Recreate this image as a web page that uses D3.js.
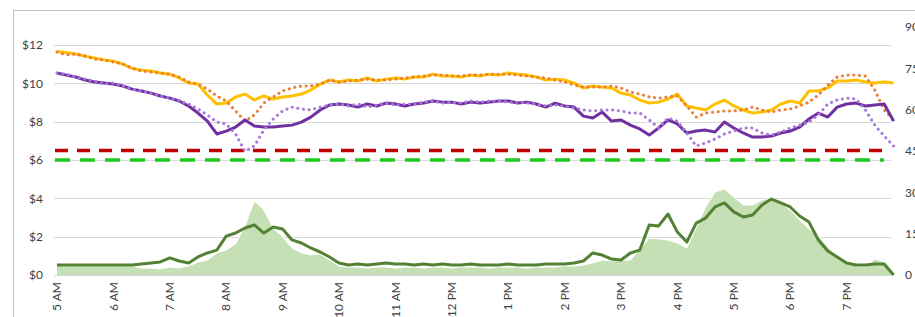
<!DOCTYPE html>
<html>
<head>
<meta charset="utf-8">
<script src="https://cdn.jsdelivr.net/npm/d3@7"></script>
<style>
  body { margin: 0; background: #fff; }
  text { font-family: Lato, "Open Sans", sans-serif; font-size: 12px; fill: #404040; }
</style>
</head>
<body>
<svg width="915" height="317"></svg>
<script>
// hour labels on the category axis
var hourLabels = ["5 AM", "6 AM", "7 AM", "8 AM", "9 AM", "10 AM", "11 AM", "12 PM",
                  "1 PM", "2 PM", "3 PM", "4 PM", "5 PM", "6 PM", "7 PM"];

// one reading every 10 minutes from 5:00 AM to 7:50 PM (minutes after 5 AM)
var minutes = d3.range(0, 900, 10);

// left axis ($) series
var goldLine = [11.66,11.61,11.53,11.42,11.32,11.22,11.16,11.01,10.77,10.69,
  10.64,10.54,10.48,10.28,10.02,9.96,9.39,8.92,8.97,9.29,
  9.44,9.13,9.34,9.18,9.29,9.34,9.44,9.65,9.96,10.17,
  10.07,10.17,10.12,10.28,10.12,10.22,10.28,10.22,10.33,10.33,
  10.48,10.38,10.38,10.33,10.43,10.38,10.48,10.43,10.54,10.48,
  10.43,10.33,10.17,10.22,10.17,10.02,9.76,9.86,9.81,9.76,
  9.49,9.39,9.13,8.97,9.02,9.18,9.44,8.82,8.71,8.61,
  8.92,9.13,8.82,8.61,8.45,8.50,8.61,8.92,9.08,8.97,
  9.60,9.60,9.76,10.12,10.12,10.17,10.07,10.02,10.07,10.02];

var orangeDots = [11.63,11.48,11.53,11.42,11.27,11.22,11.11,11.01,10.80,10.64,
  10.59,10.54,10.48,10.33,10.07,9.96,9.70,9.34,9.08,8.56,
  8.03,8.35,8.97,9.29,9.60,9.76,9.86,9.86,9.96,10.17,
  10.07,10.12,10.17,10.22,10.17,10.17,10.22,10.28,10.33,10.38,
  10.43,10.43,10.38,10.38,10.43,10.43,10.48,10.48,10.48,10.43,
  10.38,10.33,10.28,10.17,10.07,9.91,9.81,9.81,9.81,9.86,
  9.76,9.55,9.44,9.29,9.23,9.29,9.34,8.82,8.24,8.45,
  8.50,8.56,8.56,8.61,8.76,8.61,8.50,8.61,8.66,8.82,
  9.02,9.39,9.91,10.33,10.43,10.43,10.38,9.65,8.61,8.09];

var purpleLine = [10.54,10.43,10.33,10.17,10.07,10.02,9.96,9.86,9.70,9.60,
  9.49,9.34,9.23,9.08,8.82,8.45,8.03,7.36,7.51,7.72,
  8.09,7.77,7.72,7.72,7.77,7.82,7.98,8.24,8.61,8.87,
  8.92,8.87,8.76,8.92,8.82,8.97,8.92,8.82,8.92,8.97,
  9.08,9.02,9.02,8.92,9.02,8.97,9.02,9.08,9.08,8.97,
  9.02,8.92,8.76,8.97,8.82,8.76,8.29,8.19,8.50,8.03,
  8.09,7.82,7.62,7.30,7.67,8.09,7.88,7.41,7.51,7.56,
  7.46,7.98,7.67,7.41,7.20,7.20,7.25,7.41,7.51,7.72,
  8.14,8.45,8.24,8.76,8.92,8.97,8.82,8.87,8.92,8.03];

var purpleDots = [10.54,10.48,10.33,10.22,10.12,9.96,10.02,9.86,9.70,9.60,
  9.49,9.34,9.23,9.08,8.92,8.66,8.35,7.98,7.88,7.36,
  6.45,6.73,7.56,8.14,8.56,8.76,8.66,8.61,8.76,8.87,
  8.92,8.82,8.92,8.76,8.87,8.97,8.87,8.92,8.92,9.02,
  9.08,8.97,9.02,8.97,9.08,9.02,9.08,9.08,9.02,9.02,
  8.97,8.92,8.82,8.87,8.82,8.71,8.61,8.56,8.61,8.61,
  8.56,8.45,8.45,8.09,7.67,8.19,8.03,7.41,6.73,6.89,
  7.09,7.36,7.51,7.67,7.67,7.41,7.30,7.46,7.67,7.82,
  7.98,8.35,8.92,9.13,9.23,9.18,8.61,7.82,7.25,6.73];

var greenLine = [0.52,0.52,0.52,0.52,0.52,0.52,0.52,0.52,0.52,0.57,
  0.63,0.68,0.89,0.73,0.63,0.94,1.15,1.30,2.03,2.19,
  2.45,2.61,2.19,2.50,2.40,1.83,1.67,1.41,1.20,0.94,
  0.63,0.52,0.57,0.52,0.57,0.63,0.57,0.57,0.52,0.57,
  0.52,0.57,0.52,0.52,0.57,0.52,0.52,0.52,0.57,0.52,
  0.52,0.52,0.57,0.57,0.57,0.63,0.73,1.15,1.04,0.83,
  0.78,1.15,1.30,2.61,2.56,3.18,2.24,1.72,2.71,2.97,
  3.55,3.76,3.29,3.03,3.13,3.65,3.96,3.76,3.55,3.08,
  2.76,1.83,1.25,0.94,0.63,0.52,0.52,0.57,0.57,0.0];

// flat reference levels ($)
var redLevel = 6.5;
var greenLevel = 6.0;

// right axis series (area)
var volume = [3.3,3.3,3.3,3.3,3.3,3.3,3.3,3.3,3.3,2.5,
  2.5,2.2,2.9,2.5,3.3,4.7,5.4,8.0,9.1,11.3,
  17.8,26.9,23.6,17.1,13.8,9.8,8.0,7.3,7.6,5.4,
  3.3,2.9,2.9,2.5,2.9,2.9,2.5,2.9,2.9,2.5,
  2.9,2.9,2.5,2.9,2.9,2.9,2.5,2.9,2.9,2.9,
  2.5,2.9,2.9,2.9,3.3,3.3,3.6,4.4,5.4,5.1,
  5.4,5.4,9.1,13.4,13.1,12.7,11.6,9.8,17.1,24.7,
  30.1,31.2,28.3,25.4,25.4,27.2,27.9,26.1,23.6,20.0,
  16.7,14.2,10.2,6.9,4.4,3.3,2.9,5.8,4.7,0];

var leftTicks = [0, 2, 4, 6, 8, 10, 12];
var rightTicks = [0, 15, 30, 45, 60, 75, 90];

var svg = d3.select("svg");

// outer chart border
svg.append("rect")
    .attr("x", 13.5).attr("y", 10.5)
    .attr("width", 930).attr("height", 330)
    .attr("fill", "none")
    .attr("stroke", "#bfbfbf");

var x = d3.scaleLinear().domain([0, 890]).range([57, 893.6]);
var yL = d3.scaleLinear().domain([0, 12.94]).range([275, 27]);
var yR = d3.scaleLinear().domain([0, 90]).range([275, 27]);

// gridlines + left labels
svg.append("g").selectAll("line")
    .data(leftTicks)
    .enter().append("line")
    .attr("x1", 54).attr("x2", 891)
    .attr("y1", function(d) { return Math.round(yL(d)) + 0.5; })
    .attr("y2", function(d) { return Math.round(yL(d)) + 0.5; })
    .attr("stroke", "#d9d9d9");

svg.append("g").selectAll("text")
    .data(leftTicks)
    .enter().append("text")
    .attr("x", 43)
    .attr("y", function(d) { return yL(d); })
    .attr("dy", "0.35em")
    .attr("text-anchor", "end")
    .text(function(d) { return "$" + d; });

svg.append("g").selectAll("text")
    .data(rightTicks)
    .enter().append("text")
    .attr("x", 905)
    .attr("y", function(d) { return yR(d); })
    .attr("dy", "0.35em")
    .text(function(d) { return d; });

// hour labels, rotated
svg.append("g").selectAll("text")
    .data(hourLabels)
    .enter().append("text")
    .attr("transform", function(d, i) { return "translate(" + x(i * 60) + ",282) rotate(-90)"; })
    .attr("dy", "0.35em")
    .attr("text-anchor", "end")
    .text(function(d) { return d; });

// area on right axis
var area = d3.area()
    .x(function(d, i) { return x(minutes[i]); })
    .y0(yR(0))
    .y1(function(d) { return yR(d); });

svg.append("path")
    .datum(volume)
    .attr("d", area)
    .attr("fill", "#c5e0b4");

svg.append("path")
    .datum(volume)
    .attr("d", d3.line().x(function(d, i) { return x(minutes[i]); }).y(function(d) { return yR(d); }))
    .attr("fill", "none")
    .attr("stroke", "#fff")
    .attr("stroke-width", 1);

// dashed levels
svg.append("line")
    .attr("x1", 55).attr("x2", 889)
    .attr("y1", yL(redLevel)).attr("y2", yL(redLevel))
    .attr("stroke", "#c00000")
    .attr("stroke-width", 3.5)
    .attr("stroke-dasharray", "13,9");

svg.append("line")
    .attr("x1", 55).attr("x2", 884)
    .attr("y1", yL(greenLevel)).attr("y2", yL(greenLevel))
    .attr("stroke", "#1ec81e")
    .attr("stroke-width", 3.5)
    .attr("stroke-dasharray", "15,10");

var line = d3.line()
    .x(function(d, i) { return x(minutes[i]); })
    .y(function(d) { return yL(d); });

function drawLine(data, color, width, dotted) {
    var p = svg.append("path")
        .datum(data)
        .attr("d", line)
        .attr("fill", "none")
        .attr("stroke", color)
        .attr("stroke-width", width)
        .attr("stroke-linejoin", "round");
    if (dotted) {
        p.attr("stroke-dasharray", "0.1,5.6")
         .attr("stroke-linecap", "round");
    }
}

drawLine(greenLine, "#548235", 3, false);
drawLine(goldLine, "#ffc000", 3, false);
drawLine(orangeDots, "#ed7d31", 3, true);
drawLine(purpleLine, "#7030a0", 3, false);
drawLine(purpleDots, "#a678dc", 3, true);
</script>
</body>
</html>
